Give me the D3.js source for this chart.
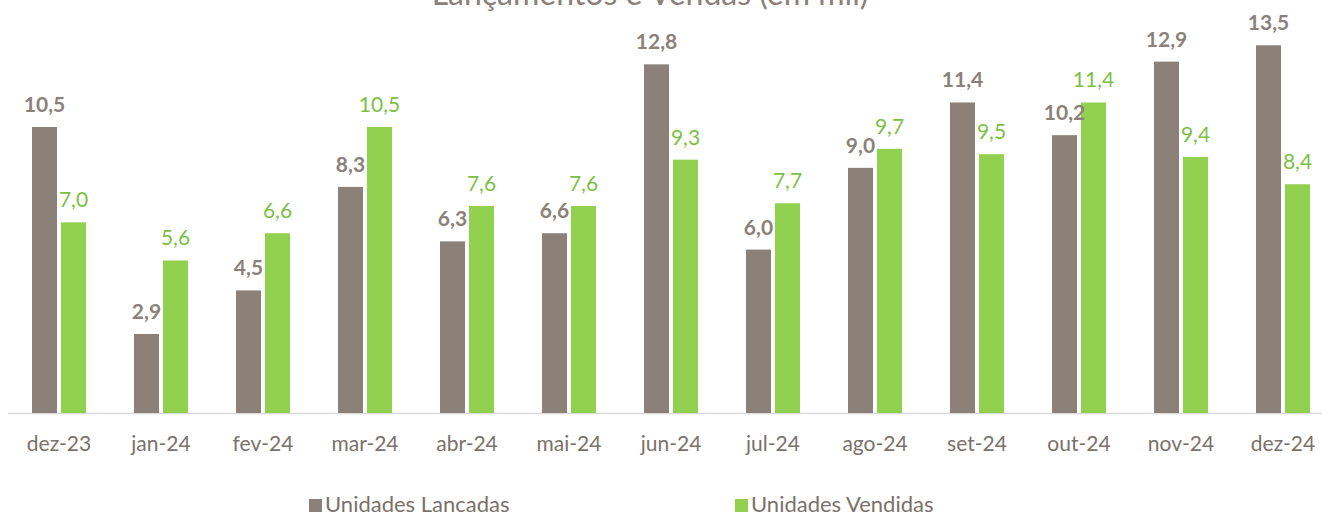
<!DOCTYPE html>
<html>
<head>
<meta charset="utf-8">
<script src="https://cdn.jsdelivr.net/npm/d3@7"></script>
<style>
  html, body { margin: 0; padding: 0; background: #fff; }
  svg { display: block; font-family: Lato, "Open Sans", sans-serif; }
</style>
</head>
<body>
<svg id="chart" width="1322" height="516"></svg>
<script>
const months = ["dez-23", "jan-24", "fev-24", "mar-24", "abr-24", "mai-24", "jun-24",
  "jul-24", "ago-24", "set-24", "out-24", "nov-24", "dez-24"];
const lancadas = [10.5, 2.9, 4.5, 8.3, 6.3, 6.6, 12.8, 6.0, 9.0, 11.4, 10.2, 12.9, 13.5];
const vendidas = [7.0, 5.6, 6.6, 10.5, 7.6, 7.6, 9.3, 7.7, 9.7, 9.5, 11.4, 9.4, 8.4];
const seriesNames = ["Unidades Lancadas", "Unidades Vendidas"];

const colors = { lanc: "#8b8178", vend: "#92d050", lancText: "#8b8178", vendText: "#7cbf44", axis: "#7a7169" };
const formatComma = (v) => v.toFixed(1).replace(".", ",");

const svg = d3.select("#chart");
const width = 1322;
const height = 516;
const margin = { top: 0, right: -12, bottom: 103, left: 8 };
const baseY = height - margin.bottom;

const rows = months.map((m, i) => ({ month: m, lanc: lancadas[i], vend: vendidas[i] }));

const x = d3.scaleBand()
  .domain(months)
  .range([margin.left, width - margin.right])
  .paddingInner(0)
  .paddingOuter(0);

const y = d3.scaleLinear()
  .domain([0, 10.5])
  .range([baseY, 127]);

const barW = 25;
const gap = 4;

// title (cut at the top edge, as in the source)
svg.append("text")
  .attr("x", 650)
  .attr("y", 5)
  .attr("text-anchor", "middle")
  .attr("font-size", 32)
  .attr("fill", "#8b8178")
  .text("Lançamentos e Vendas (em mil)");

// axis line
svg.append("line")
  .attr("x1", margin.left)
  .attr("x2", width)
  .attr("y1", baseY + 0.5)
  .attr("y2", baseY + 0.5)
  .attr("stroke", "#d9d9d9")
  .attr("stroke-width", 1.5);

const groups = svg.append("g")
  .selectAll("g")
  .data(rows)
  .join("g")
  .attr("transform", (d) => `translate(${x(d.month) + x.bandwidth() / 2},0)`);

groups.append("rect")
  .attr("x", -barW - gap / 2)
  .attr("y", (d) => y(d.lanc))
  .attr("width", barW)
  .attr("height", (d) => baseY - y(d.lanc))
  .attr("fill", colors.lanc);

groups.append("rect")
  .attr("x", gap / 2)
  .attr("y", (d) => y(d.vend))
  .attr("width", barW)
  .attr("height", (d) => baseY - y(d.vend))
  .attr("fill", colors.vend);

groups.append("text")
  .attr("x", -barW / 2 - gap / 2)
  .attr("y", (d) => y(d.lanc) - 15)
  .attr("text-anchor", "middle")
  .attr("font-size", 21)
  .attr("font-weight", 700)
  .attr("fill", colors.lancText)
  .text((d) => formatComma(d.lanc));

groups.append("text")
  .attr("x", barW / 2 + gap / 2)
  .attr("y", (d) => y(d.vend) - 15)
  .attr("text-anchor", "middle")
  .attr("font-size", 21)
  .attr("fill", colors.vendText)
  .text((d) => formatComma(d.vend));

// category labels
svg.append("g")
  .attr("transform", `translate(0,${baseY})`)
  .call(d3.axisBottom(x).tickSize(0).tickPadding(23))
  .call((g) => g.select(".domain").remove())
  .call((g) => g.selectAll("text")
    .attr("font-family", "Lato, 'Open Sans', sans-serif")
    .attr("font-size", 21)
    .attr("fill", colors.axis));

// legend
const legend = svg.append("g")
  .selectAll("g")
  .data(seriesNames)
  .join("g")
  .attr("transform", (d, i) => `translate(${i === 0 ? 309 : 735},499)`);

legend.append("rect")
  .attr("width", 13)
  .attr("height", 13)
  .attr("fill", (d, i) => i === 0 ? colors.lanc : colors.vend);

legend.append("text")
  .attr("x", 16)
  .attr("y", 13)
  .attr("font-size", 22)
  .attr("fill", colors.axis)
  .text((d) => d);
</script>
</body>
</html>
